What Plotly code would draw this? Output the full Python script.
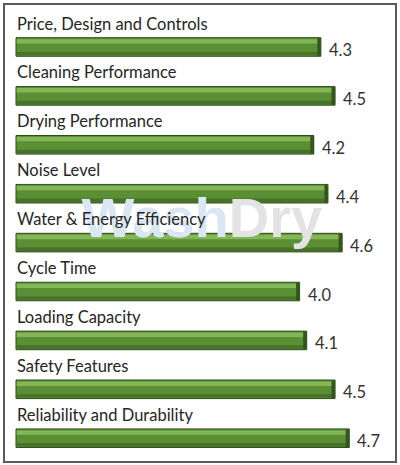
import plotly.graph_objects as go

categories = [
    "Price, Design and Controls",
    "Cleaning Performance",
    "Drying Performance",
    "Noise Level",
    "Water & Energy Efficiency",
    "Cycle Time",
    "Loading Capacity",
    "Safety Features",
    "Reliability and Durability",
]
ratings = [4.3, 4.5, 4.2, 4.4, 4.6, 4.0, 4.1, 4.5, 4.7]

pos = list(range(len(categories)))
font = "Lato, 'Open Sans', sans-serif"

fig = go.Figure()

# faint watermark behind the bars
fig.add_trace(go.Scatter(x=[3.0], y=[3.6], mode="text", text=["Wash"],
                         textposition="middle left",
                         textfont=dict(size=56, color="#dae6f3", family="Liberation Sans", weight="bold"),
                         hoverinfo="skip", showlegend=False))
fig.add_trace(go.Scatter(x=[3.0], y=[3.6], mode="text", text=["Dry"],
                         textposition="middle right",
                         textfont=dict(size=56, color="#e3e3e3", family="Liberation Sans", weight="bold"),
                         hoverinfo="skip", showlegend=False))

# main bar body
fig.add_trace(go.Bar(x=ratings, y=pos, orientation="h", width=0.38,
                     marker=dict(color="#5b8f33", line=dict(color="#2e4d17", width=1)),
                     hoverinfo="skip", showlegend=False))
# top highlight
fig.add_trace(go.Bar(x=[r - 0.03 for r in ratings], y=pos, orientation="h",
                     width=0.09, offset=-0.16, base=0.01,
                     marker=dict(color="#82b657", line=dict(width=0)),
                     hoverinfo="skip", showlegend=False))
# bottom shade
fig.add_trace(go.Bar(x=[r - 0.03 for r in ratings], y=pos, orientation="h",
                     width=0.07, offset=0.1, base=0.01,
                     marker=dict(color="#46722b", line=dict(width=0)),
                     hoverinfo="skip", showlegend=False))
# darker end cap
fig.add_trace(go.Bar(x=[0.05] * len(ratings), y=pos, orientation="h",
                     width=0.36, base=[r - 0.05 for r in ratings],
                     marker=dict(color="#34561c", line=dict(width=0)),
                     hoverinfo="skip", showlegend=False))

for i, (c, r) in enumerate(zip(categories, ratings)):
    fig.add_annotation(x=0, y=i - 0.5, text=c, showarrow=False, xanchor="left",
                       xshift=-1, yshift=-1, font=dict(size=16.5, color="#262626", family=font))
    fig.add_annotation(x=r, y=i, text=f"{r:.1f}", showarrow=False, xanchor="left",
                       xshift=6, yshift=-3, font=dict(size=16.5, color="#333333", family=font))

# frame round the chart
fig.add_shape(type="rect", xref="paper", yref="paper",
              x0=4 / 400, x1=396 / 400, y0=3 / 465, y1=461 / 465,
              line=dict(color="#5a5a5a", width=2))

fig.update_layout(
    width=400, height=465,
    margin=dict(l=0, r=0, t=0, b=0),
    paper_bgcolor="white", plot_bgcolor="white",
    barmode="overlay",
    xaxis=dict(range=[-16 / 70.9, 384 / 70.9], visible=False, fixedrange=True),
    yaxis=dict(range=[8.548, -0.961], visible=False, fixedrange=True),
    font=dict(family=font),
)

fig.write_html("out.html", config={"displayModeBar": False},
               post_script="document.body.style.margin='0';")
